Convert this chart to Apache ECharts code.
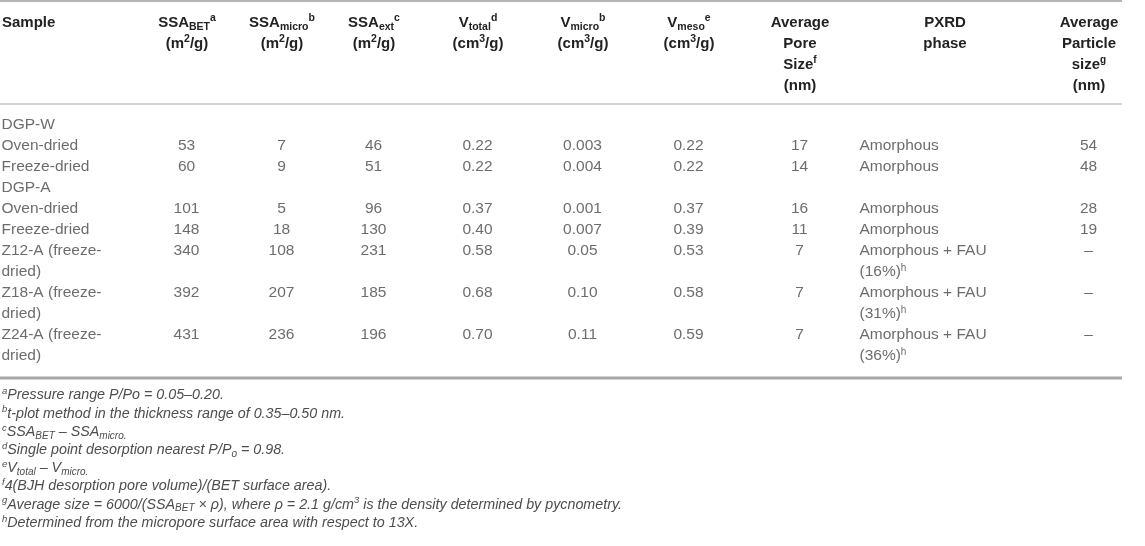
<!DOCTYPE html>
<html>
<head>
<meta charset="utf-8">
<script src="https://cdn.jsdelivr.net/npm/echarts@6/dist/echarts.min.js"></script>
<style>
html,body{margin:0;padding:0;background:#fff;}
#chart{width:1145px;height:546px;}
</style>
</head>
<body>
<div id="chart"></div>
<script>
// ---------- DATA ----------
const sampleLines = ['DGP-W','Oven-dried','Freeze-dried','DGP-A','Oven-dried','Freeze-dried',
  'Z12-A (freeze-','dried)','Z18-A (freeze-','dried)','Z24-A (freeze-','dried)'];
const dataRowIndex = [1, 2, 4, 5, 6, 8, 10];
const ssaBET = [53, 60, 101, 148, 340, 392, 431];
const ssaMicro = [7, 9, 5, 18, 108, 207, 236];
const ssaExt = [46, 51, 96, 130, 231, 185, 196];
const vTotal = ['0.22', '0.22', '0.37', '0.40', '0.58', '0.68', '0.70'];
const vMicro = ['0.003', '0.004', '0.001', '0.007', '0.05', '0.10', '0.11'];
const vMeso = ['0.22', '0.22', '0.37', '0.39', '0.53', '0.58', '0.59'];
const poreSize = [17, 14, 16, 11, 7, 7, 7];
const pxrdPhase = ['Amorphous', 'Amorphous', 'Amorphous', 'Amorphous', 'Amorphous + FAU', 'Amorphous + FAU', 'Amorphous + FAU'];
const pxrdFAU = [null, null, null, null, '16%', '31%', '36%'];
const particleSize = ['54', '48', '28', '19', '–', '–', '–'];

const headers = [
  ['Sample'],
  ['SSA{sb|BET}{sp|a}', '(m{sp|2}/g)'],
  ['SSA{sb|micro}{sp|b}', '(m{sp|2}/g)'],
  ['SSA{sb|ext}{sp|c}', '(m{sp|2}/g)'],
  ['V{sb|total}{sp|d}', '(cm{sp|3}/g)'],
  ['V{sb|micro}{sp|b}', '(cm{sp|3}/g)'],
  ['V{sb|meso}{sp|e}', '(cm{sp|3}/g)'],
  ['Average', 'Pore', 'Size{sp2|f}', '(nm)'],
  ['PXRD', 'phase'],
  ['Average', 'Particle', 'size{sp2|g}', '(nm)']
];
const footnotes = [
  '{sp|a}Pressure range P/Po = 0.05–0.20.',
  '{sp|b}t-plot method in the thickness range of 0.35–0.50 nm.',
  '{sp|c}SSA{sb|BET} – SSA{sb|micro.}',
  '{sp|d}Single point desorption nearest P/P{sb|o} = 0.98.',
  '{sp|e}V{sb|total} – V{sb|micro.}',
  '{sp|f}4(BJH desorption pore volume)/(BET surface area).',
  '{sp|g}Average size = 6000/(SSA{sb|BET} × ρ), where ρ = 2.1 g/cm{sp|3} is the density determined by pycnometry.',
  '{sp|h}Determined from the micropore surface area with respect to 13X.'
];

// ---------- LAYOUT ----------
const FONT = 'Liberation Sans, Arial, Helvetica, sans-serif';
const COL_X = [2, 187, 282, 374, 478, 583, 689, 800, 860, 1089];
const HEADER_ALIGN = ['left','center','center','center','center','center','center','center','center','center'];
const HEADER_X = [2, 187, 282, 374, 478, 583, 689, 800, 945, 1089];
const HEADER_Y0 = 23, HEADER_DY = 21;
const FOOT_Y0 = 395.5, FOOT_DY = 18.2;
const RIGHT = 1122;

const chart = echarts.init(document.getElementById('chart'), null, {renderer: 'canvas'});

const bodyColor = '#474747';
const richBody = {
  sp: {fontSize: 10, lineHeight: 10, verticalAlign: 'top', color: bodyColor, fontFamily: FONT}
};

function cell(col, row, text) { return [COL_X[col], row, text]; }

const centerCells = [];
const leftCells = [];
sampleLines.forEach((s, i) => leftCells.push(cell(0, i, s)));
dataRowIndex.forEach((r, k) => {
  centerCells.push(cell(1, r, String(ssaBET[k])));
  centerCells.push(cell(2, r, String(ssaMicro[k])));
  centerCells.push(cell(3, r, String(ssaExt[k])));
  centerCells.push(cell(4, r, vTotal[k]));
  centerCells.push(cell(5, r, vMicro[k]));
  centerCells.push(cell(6, r, vMeso[k]));
  centerCells.push(cell(7, r, String(poreSize[k])));
  leftCells.push(cell(8, r, pxrdPhase[k]));
  if (pxrdFAU[k]) leftCells.push(cell(8, r + 1, '(' + pxrdFAU[k] + '){sp|h}'));
  centerCells.push(cell(9, r, particleSize[k]));
});

function labelSeries(data, align) {
  return {
    type: 'scatter',
    data: data,
    symbolSize: 1,
    itemStyle: {color: 'transparent'},
    silent: true,
    animation: false,
    label: {
      show: true,
      position: [0, 0],
      align: align,
      verticalAlign: 'middle',
      fontFamily: FONT,
      fontSize: 15.5,
      color: bodyColor,
      formatter: p => p.value[2],
      rich: richBody
    }
  };
}

const graphics = [];
// rules
graphics.push({type: 'line', shape: {x1: 0, y1: 1, x2: RIGHT, y2: 1}, style: {stroke: '#b4b4b4', lineWidth: 2}, silent: true});
graphics.push({type: 'line', shape: {x1: 0, y1: 104, x2: RIGHT, y2: 104}, style: {stroke: '#d2d2d2', lineWidth: 2}, silent: true});
graphics.push({type: 'line', shape: {x1: 0, y1: 378, x2: RIGHT, y2: 378}, style: {stroke: '#a8a8a8', lineWidth: 3}, silent: true});

const hdrColor = '#222';
const richHdr = {
  sb: {fontSize: 10.5, fontWeight: 'bold', lineHeight: 12, verticalAlign: 'bottom', fill: hdrColor, color: hdrColor, fontFamily: FONT},
  sp: {fontSize: 10.5, fontWeight: 'bold', lineHeight: 8, verticalAlign: 'top', fill: hdrColor, color: hdrColor, fontFamily: FONT},
  sp2: {fontSize: 10, fontWeight: 'bold', lineHeight: 10, verticalAlign: 'top', fill: hdrColor, color: hdrColor, fontFamily: FONT}
};
headers.forEach((lines, c) => {
  lines.forEach((t, j) => {
    graphics.push({
      type: 'text', silent: true,
      x: HEADER_X[c], y: HEADER_Y0 + j * HEADER_DY,
      style: {
        text: t, fill: hdrColor,
        font: 'bold 15px ' + FONT,
        align: HEADER_ALIGN[c], verticalAlign: 'middle',
        lineHeight: 20,
        rich: richHdr
      }
    });
  });
});

const footColor = '#4d4d4d';
const richFoot = {
  sb: {fontSize: 10, fontStyle: 'italic', lineHeight: 12, verticalAlign: 'bottom', fill: footColor, color: footColor, fontFamily: FONT},
  sp: {fontSize: 9.5, fontStyle: 'italic', lineHeight: 8, verticalAlign: 'top', fill: footColor, color: footColor, fontFamily: FONT}
};
footnotes.forEach((t, j) => {
  graphics.push({
    type: 'text', silent: true,
    x: 2, y: FOOT_Y0 + j * FOOT_DY,
    style: {
      text: t, fill: footColor,
      font: 'italic 14.3px ' + FONT,
      align: 'left', verticalAlign: 'middle',
      lineHeight: 18,
      rich: richFoot
    }
  });
});

const option = {
  backgroundColor: '#fff',
  animation: false,
  grid: {left: 0, width: 1145, top: 114.5, height: 252, containLabel: false},
  xAxis: {type: 'value', min: 0, max: 1145, show: false},
  yAxis: {type: 'category', inverse: true, show: false, data: sampleLines.map((s, i) => String(i))},
  series: [labelSeries(leftCells, 'left'), labelSeries(centerCells, 'center')],
  graphic: graphics
};
chart.setOption(option);
</script>
</body>
</html>
